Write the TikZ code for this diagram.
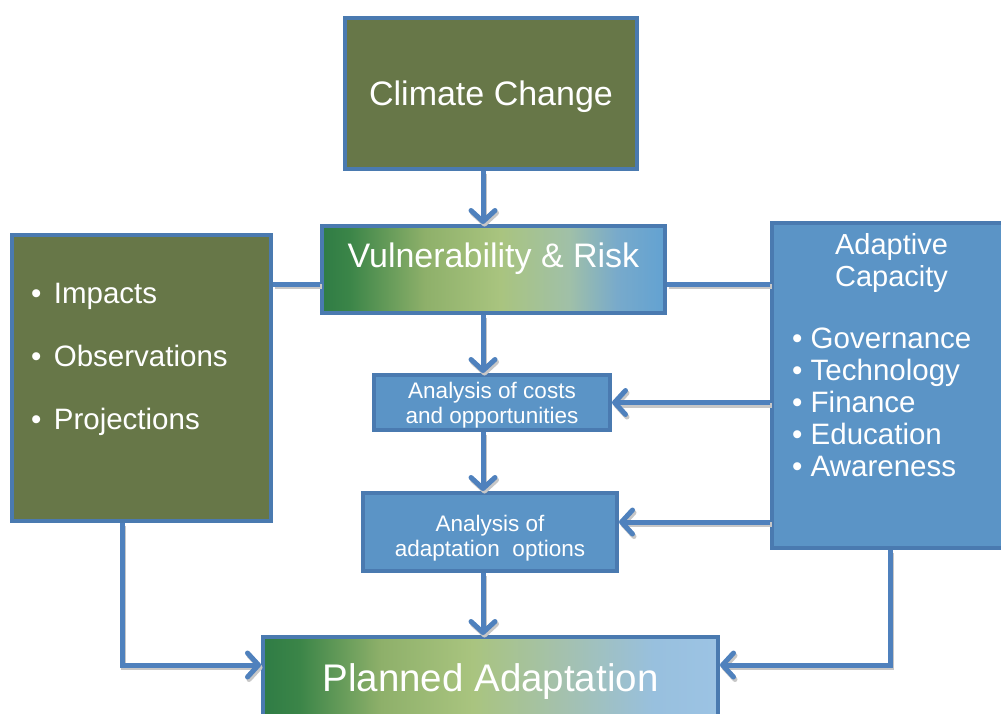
\documentclass[tikz,border=0pt]{standalone}
\usepackage{fontspec}
\setmainfont{Liberation Sans}
\usetikzlibrary{arrows.meta}
\definecolor{olivebox}{HTML}{677748}
\definecolor{bord}{HTML}{4A7AB0}
\definecolor{blubox}{HTML}{5B94C6}
\definecolor{lin}{HTML}{4F81BD}
\definecolor{gA}{HTML}{2F7C45}
\definecolor{gB}{HTML}{3B8548}
\definecolor{gC}{HTML}{8EB06A}
\definecolor{gD}{HTML}{A9C47F}
\definecolor{gE}{HTML}{A0C0A8}
\definecolor{bA}{HTML}{78AACB}
\definecolor{bB}{HTML}{62A2D2}
\definecolor{pE}{HTML}{A4C1AE}
\definecolor{pF}{HTML}{98C0DE}
\definecolor{pG}{HTML}{9CC3E4}
\pgfdeclarehorizontalshading{vrshade}{100bp}{color(0bp)=(gA); color(25bp)=(gA); color(29bp)=(gB); color(40bp)=(gC); color(51bp)=(gD); color(61bp)=(gE); color(68bp)=(bA); color(75bp)=(bB); color(100bp)=(bB)}
\pgfdeclarehorizontalshading{pashade}{100bp}{color(0bp)=(gA); color(25bp)=(gA); color(29bp)=(gB); color(38bp)=(gC); color(48bp)=(gD); color(58bp)=(pE); color(68bp)=(pF); color(75bp)=(pG); color(100bp)=(pG)}
\newcommand{\bul}{\textbullet\hspace{0.42em}}
\tikzset{
  box/.style={draw=bord, line width=4pt, inner sep=0pt, text=white},
  olv/.style={box, fill=olivebox},
  blu/.style={box, fill=blubox},
  txt/.style={text=white, inner sep=0pt},
  conn/.style={draw=lin, line width=5pt,
    preaction={draw=black!22, line width=5pt, transform canvas={shift={(1.5pt,-2.5pt)}}}},
  arr/.style={conn, -{Straight Barb[length=11pt,width=24pt,line cap=round,line join=round]}},
}
\begin{document}
\begin{tikzpicture}[x=1pt,y=-1pt]
\useasboundingbox (0,0) rectangle (1001,713);
% boxes
\node[olv, minimum width=292pt, minimum height=151pt] (cc) at (491,93.5) {};
\node[txt, font=\fontsize{34}{40}\selectfont] (cct) at (491,97) {Climate Change};
\node[box, shading=vrshade, minimum width=343pt, minimum height=87pt] (vr) at (493.5,269.5) {};
\node[txt, font=\fontsize{34}{40}\selectfont] (vrt) at (493.5,259) {Vulnerability \& Risk};
\node[olv, minimum width=259pt, minimum height=286pt] (lb) at (141.5,378) {};
\node[blu, minimum width=236pt, minimum height=325pt] (ac) at (890,385.5) {};
\node[blu, minimum width=236pt, minimum height=55pt] (co) at (492,402.5) {};
\node[blu, minimum width=254pt, minimum height=78pt] (op) at (490,532) {};
\node[box, shading=pashade, minimum width=455pt, minimum height=110pt] (pa) at (490.5,692) {};
\node[txt, font=\fontsize{38.5}{44}\selectfont] (pat) at (490.5,682) {Planned Adaptation};
% left list
\begin{scope}[every node/.style={txt, anchor=base west, font=\fontsize{29.5}{34}\selectfont}]
\node (l1) at (31,303) {\bul Impacts};
\node (l2) at (31,366) {\bul Observations};
\node (l3) at (31,429) {\bul Projections};
\end{scope}
% adaptive capacity
\begin{scope}[every node/.style={txt, anchor=base, font=\fontsize{29}{34}\selectfont}]
\node (a1) at (891.5,254) {Adaptive};
\node (a2) at (891.5,286) {Capacity};
\end{scope}
\begin{scope}[every node/.style={txt, anchor=base west, font=\fontsize{29.5}{34}\selectfont}]
\node (b1) at (792,348) {\textbullet\ Governance};
\node (b2) at (792,380) {\textbullet\ Technology};
\node (b3) at (792,412) {\textbullet\ Finance};
\node (b4) at (792,444) {\textbullet\ Education};
\node (b5) at (792,476) {\textbullet\ Awareness};
\end{scope}
% small boxes text
\begin{scope}[every node/.style={txt, anchor=base, font=\fontsize{22.5}{26}\selectfont}]
\node (c1) at (492,398) {Analysis of costs};
\node (c2) at (492,423) {and opportunities};
\node (o1) at (490,531) {Analysis of};
\node (o2) at (490,556) {adaptation\ \ options};
\end{scope}
% connectors
\coordinate (vx) at (483,0);
\coordinate (hy) at (0,284);
\coordinate (lx) at (122,0);
\coordinate (rx) at (890,0);
\coordinate (py) at (0,665);
\coordinate (oy) at (0,522);
\draw[arr] (cc.south -| vx) -- (vr.north -| vx);
\draw[arr] (vr.south -| vx) -- (co.north -| vx);
\draw[arr] (co.south -| vx) -- (op.north -| vx);
\draw[arr] (op.south -| vx) -- (pa.north -| vx);
\draw[conn] (lb.east |- hy) -- (vr.west |- hy);
\draw[conn] (vr.east |- hy) -- (ac.west |- hy);
\draw[arr] (ac.west |- co.east) -- (co.east);
\draw[arr] (ac.west |- oy) -- (op.east |- oy);
\draw[arr] (lb.south -| lx) |- (pa.west |- py);
\draw[arr] (ac.south -| rx) |- (pa.east |- py);
\end{tikzpicture}
\end{document}
